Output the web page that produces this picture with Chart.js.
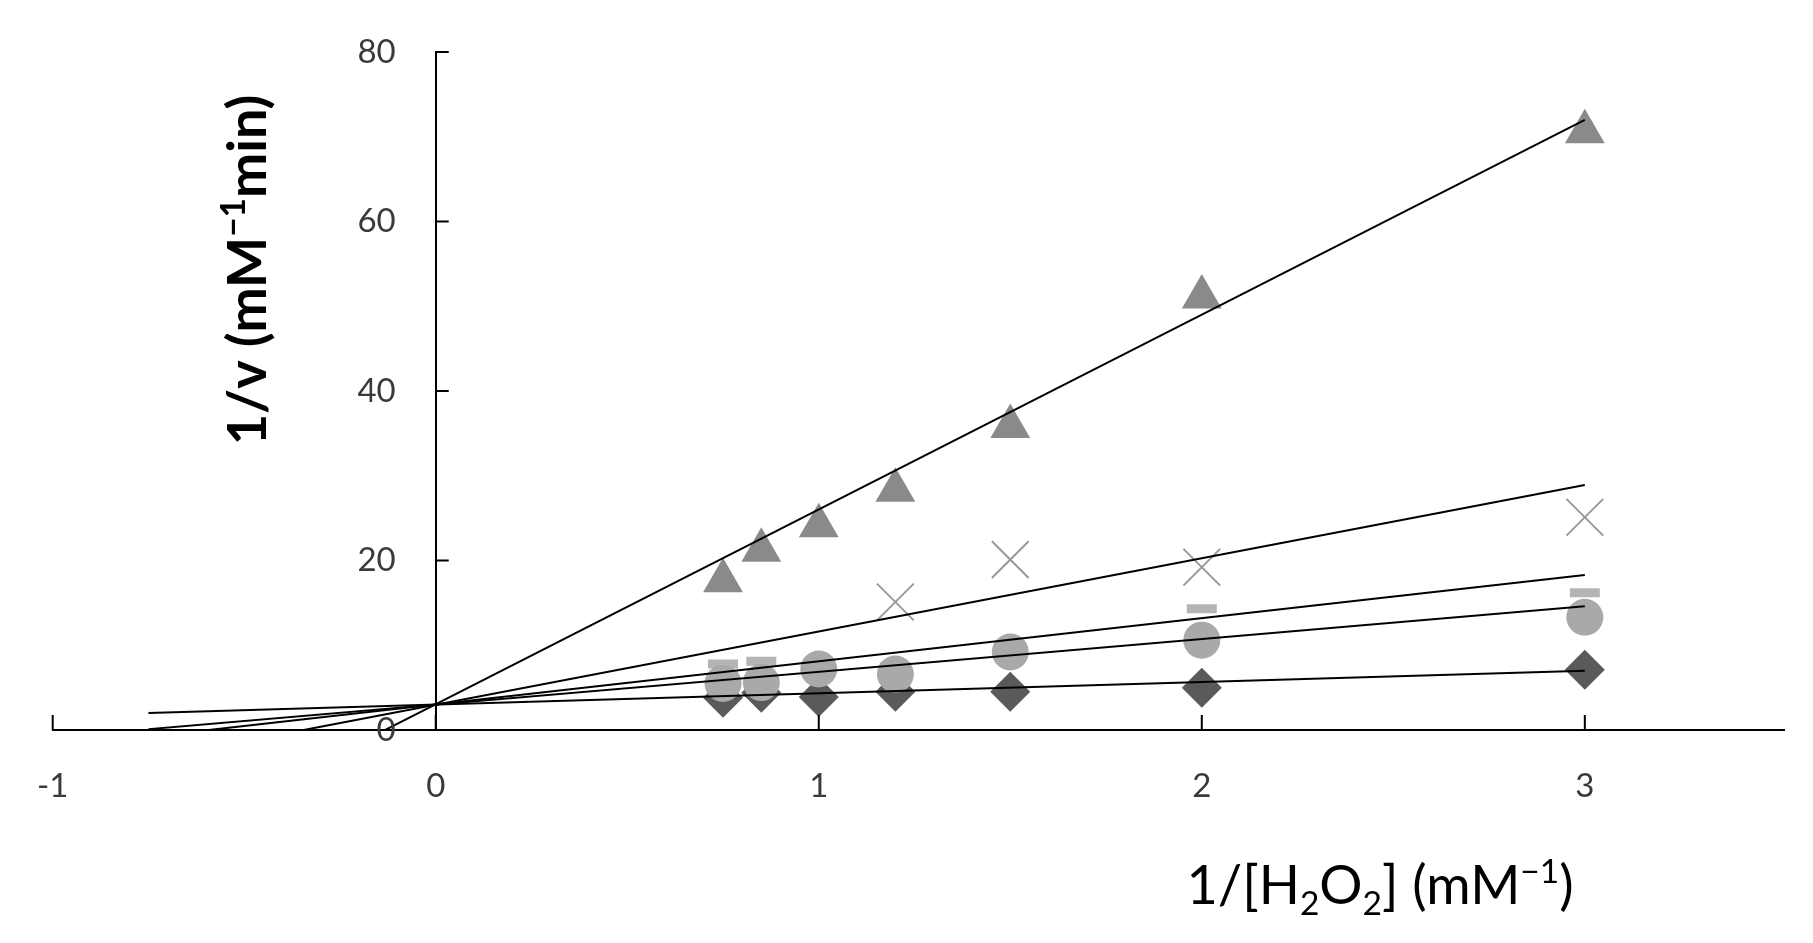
<!DOCTYPE html>
<html>
<head>
<meta charset="utf-8">
<script src="https://cdn.jsdelivr.net/npm/chart.js@4"></script>
<style>
  html, body { margin: 0; padding: 0; background: #fff; }
  canvas { display: block; }
</style>
</head>
<body>
<canvas id="lbChart" width="1813" height="943"></canvas>
<script>
let xValues = [0.75, 0.85, 1, 1.2, 1.5, 2, 3];
let diamondY = [3.8, 4.4, 3.9, 4.5, 4.5, 5.0, 7.1];
let dashY = [7.8, 8.1, 7.9, 7.5, 10.0, 14.3, 16.2];
let circleY = [5.5, 5.6, 7.2, 6.6, 9.2, 10.6, 13.3];
let crossY = [null, null, null, 15.1, 20.1, 19.2, 25.1];
let triangleY = [17.6, 21.2, 24.1, 28.3, 35.8, 51.1, 70.6];

// trend lines: diamond, circle, dash, cross, triangle
let fitX = [-0.75, 3];
let fitStartY = [2.0, 0.1, -0.8, -3.5, -14.2];
let fitEndY = [7.0, 14.6, 18.3, 28.9, 72.0];

let xTicks = [-1, 0, 1, 2, 3];
let yTicks = [0, 20, 40, 60, 80];

let ctx = document.getElementById('lbChart').getContext('2d');

const pts = (ys) => xValues.map((x, i) => ({x: x, y: ys[i]}));

let fitLines = fitStartY.map((y0, i) => ({
    showLine: true,
    data: [{x: fitX[0], y: y0}, {x: fitX[1], y: fitEndY[i]}],
    borderColor: '#000',
    borderWidth: 2,
    pointRadius: 0,
    order: 0
}));

// rich text helper: parts = [[text, 0 normal | 1 sub | 2 sup], ...]
function richText(c, parts, cx, baseY, size, weight, family) {
    const small = size * 0.62;
    const fontFor = (k) => weight + ' ' + (k ? small : size) + 'px ' + family;
    let total = 0;
    parts.forEach(p => { c.font = fontFor(p[1]); total += c.measureText(p[0]).width; });
    let x = cx - total / 2;
    c.textAlign = 'left';
    c.textBaseline = 'alphabetic';
    parts.forEach(p => {
        c.font = fontFor(p[1]);
        let dy = p[1] === 1 ? size * 0.2 : (p[1] === 2 ? -size * 0.38 : 0);
        c.fillText(p[0], x, baseY + dy);
        x += c.measureText(p[0]).width;
    });
}

const axisDecor = {
    id: 'axisDecor',
    afterDraw(chart) {
        const c = chart.ctx;
        const xs = chart.scales.x, ys = chart.scales.y;
        const x0 = xs.getPixelForValue(0), y0 = ys.getPixelForValue(0);
        c.save();
        // inward tick marks
        c.strokeStyle = '#000';
        c.lineWidth = 2;
        c.beginPath();
        yTicks.forEach(v => {
            const py = ys.getPixelForValue(v);
            c.moveTo(x0, py); c.lineTo(x0 + 13, py);
        });
        xTicks.forEach(v => {
            const px = xs.getPixelForValue(v);
            c.moveTo(px, y0); c.lineTo(px, y0 - 15);
        });
        c.stroke();

        // y tick labels, left of the axis that sits at x = 0
        c.fillStyle = '#3a3a3a';
        c.font = '33px Lato';
        c.textAlign = 'right';
        c.textBaseline = 'middle';
        ys.ticks.forEach(t => {
            c.fillText(String(t.value), x0 - 40, ys.getPixelForValue(t.value));
        });

        c.fillStyle = '#000';
        richText(c, [['1/[H', 0], ['2', 1], ['O', 0], ['2', 1], ['] (mM', 0], ['\u22121', 2], [')', 0]],
            1380, 904, 54, 'normal', 'Lato');

        c.translate(266, 270);
        c.rotate(-Math.PI / 2);
        richText(c, [['1/v (mM', 0], ['\u22121', 2], ['min)', 0]], 0, 0, 54, 'bold', 'Lato');
        c.restore();
    }
};

let tickFont = {family: 'Lato', size: 33};

let myChart = new Chart(ctx, {
    type: 'scatter',
    data: {
        datasets: fitLines.concat([
            {
                data: pts(circleY),
                pointStyle: 'circle',
                pointRadius: 18.5,
                backgroundColor: '#a9a9a9',
                borderWidth: 0,
                order: 1
            },
            {
                data: pts(triangleY),
                pointStyle: 'triangle',
                pointRadius: 23,
                backgroundColor: '#8a8a8a',
                borderWidth: 0,
                order: 2
            },
            {
                data: pts(diamondY),
                pointStyle: 'rectRot',
                pointRadius: 20,
                backgroundColor: '#5a5a5a',
                borderWidth: 0,
                order: 3
            },
            {
                data: pts(dashY),
                pointStyle: 'line',
                pointRadius: 15,
                borderColor: '#b4b4b4',
                pointBorderWidth: 9,
                order: 4
            },
            {
                data: pts(crossY),
                pointStyle: 'crossRot',
                pointRadius: 26,
                borderColor: '#999999',
                pointBorderWidth: 2,
                order: 5
            }
        ])
    },
    options: {
        responsive: false,
        animation: false,
        layout: {
            padding: {left: 48, right: 29, top: 52, bottom: 213}
        },
        plugins: {
            legend: {display: false},
            tooltip: {enabled: false}
        },
        scales: {
            x: {
                type: 'linear',
                min: -1,
                max: 3.52,
                position: {y: 0},
                afterBuildTicks: (s) => { s.ticks = xTicks.map(v => ({value: v})); },
                grid: {drawOnChartArea: false, drawTicks: false},
                border: {color: '#000', width: 2},
                ticks: {padding: 37, font: tickFont, color: '#3a3a3a'}
            },
            y: {
                type: 'linear',
                min: 0,
                max: 80,
                position: {x: 0},
                afterBuildTicks: (s) => { s.ticks = yTicks.map(v => ({value: v})); },
                grid: {drawOnChartArea: false, drawTicks: false},
                border: {color: '#000', width: 2},
                ticks: {display: false}
            }
        }
    },
    plugins: [axisDecor]
});
</script>
</body>
</html>
